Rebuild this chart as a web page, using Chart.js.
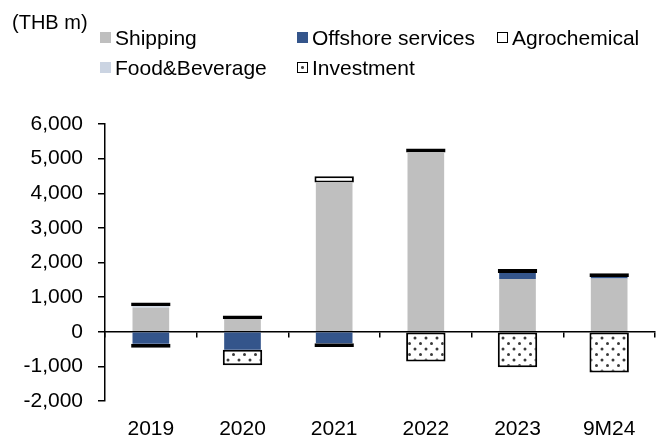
<!DOCTYPE html>
<html><head><meta charset="utf-8">
<script src="https://cdn.jsdelivr.net/npm/chart.js@4"></script>
<style>
body{margin:0;background:#fff;}
#wrap{position:relative;width:662px;height:441px;font-family:'Liberation Sans',Arial,sans-serif;color:#000;overflow:hidden;}
#c{position:absolute;left:0;top:0;}
.unit{position:absolute;left:12px;top:10px;font-size:20px;line-height:24px;white-space:nowrap;}
.lg{position:absolute;font-size:21px;line-height:24px;white-space:nowrap;padding-left:15px;}
.sw{position:absolute;width:11px;height:11px;left:0;top:6px;box-sizing:border-box;}
</style></head>
<body>
<div id="wrap">
<canvas id="c" width="662" height="441"></canvas>
<div class="unit" id="unit"></div>
<div id="legend"></div>
</div>
<script>
// ---- data ----
const categories = ['2019', '2020', '2021', '2022', '2023', '9M24'];
const seriesNames = ['Shipping', 'Offshore services', 'Agrochemical', 'Food&Beverage', 'Investment'];
const shipping = [690, 370, 4310, 5180, 1525, 1540];
const offshore = [-350, -520, -330, 0, 175, 40];
const agrochemical = [-110, 100, 180, 110, 110, 110];
const foodBeverage = [45, 0, 0, 0, 0, 0];
const investment = [110, -445, -110, -860, -1025, -1180];
const yMin = -2000, yMax = 6000, yStep = 1000;
const unitLabel = '(THB m)';

// ---- styles / layout ----
const canvas = document.getElementById('c');
const ctx = canvas.getContext('2d');
function dotPattern() {
  const t = document.createElement('canvas'); t.width = 11; t.height = 11;
  const g = t.getContext('2d');
  g.fillStyle = '#fff'; g.fillRect(0, 0, 11, 11);
  g.fillStyle = '#3a3a3a';
  [[2.5, 2.5], [8, 8]].forEach(([x, y]) => { g.beginPath(); g.arc(x, y, 1.5, 0, Math.PI * 2); g.fill(); });
  return ctx.createPattern(t, 'repeat');
}
const pattern = dotPattern();
const seriesValues = [shipping, offshore, agrochemical, foodBeverage, investment];
const seriesStyles = [
  { backgroundColor: '#BFBFBF', borderWidth: 0, barPercentage: 0.4 },
  { backgroundColor: '#34558B', borderWidth: 0, barPercentage: 0.4 },
  { backgroundColor: '#FFFFFF', borderColor: '#000', borderWidth: 2, barPercentage: 0.43 },
  { backgroundColor: '#CBD4E2', borderWidth: 0, barPercentage: 0.4 },
  { backgroundColor: pattern, borderColor: '#000', borderWidth: 2, barPercentage: 0.43 }
];
const swatchCss = [
  'background:#BFBFBF',
  'background:#34558B',
  'background:#fff;border:1.5px solid #000',
  'background:#CBD4E2',
  'background:radial-gradient(circle,#444 0 1.3px,#fff 1.6px);border:1.5px solid #000'
];
const legendPos = [[100, 26], [297, 26], [497, 26], [100, 56], [297, 56]];

document.getElementById('unit').textContent = unitLabel;
const lg = document.getElementById('legend');
seriesNames.forEach((n, i) => {
  const d = document.createElement('div');
  d.className = 'lg';
  d.style.left = legendPos[i][0] + 'px';
  d.style.top = legendPos[i][1] + 'px';
  const s = document.createElement('span');
  s.className = 'sw';
  s.style.cssText = swatchCss[i];
  d.appendChild(s);
  d.appendChild(document.createTextNode(n));
  lg.appendChild(d);
});

Chart.defaults.font.family = "'Liberation Sans', Arial, sans-serif";
Chart.defaults.font.size = 21;
Chart.defaults.color = '#000';

new Chart(ctx, {
  type: 'bar',
  data: {
    labels: categories,
    datasets: seriesNames.map((n, i) => Object.assign({
      label: n, data: seriesValues[i], categoryPercentage: 1, borderSkipped: false
    }, seriesStyles[i]))
  },
  options: {
    responsive: false,
    animation: false,
    locale: 'en-US',
    layout: { padding: { left: 0, top: 124, right: 7, bottom: 40 } },
    plugins: { legend: { display: false }, tooltip: { enabled: false }, title: { display: false } },
    scales: {
      x: {
        stacked: true,
        position: { y: 0 },
        z: 1,
        grid: { display: true, drawOnChartArea: false, drawTicks: true, tickLength: 5, color: '#000', lineWidth: 1.5, offset: true },
        border: { display: true, color: '#000', width: 1.5 },
        ticks: { padding: 80, color: '#000', font: { size: 21 } },
        afterFit(s) { s.paddingLeft = 0; s.paddingRight = 0; }
      },
      y: {
        stacked: true,
        min: yMin, max: yMax,
        ticks: { stepSize: yStep, padding: 15, color: '#000', font: { size: 21 } },
        grid: { drawOnChartArea: false, drawTicks: true, tickLength: 7, color: '#000', lineWidth: 1.5 },
        border: { display: true, color: '#000', width: 1.5 },
        afterFit(s) { s.width = 105; }
      }
    }
  }
});
</script>
</body></html>
